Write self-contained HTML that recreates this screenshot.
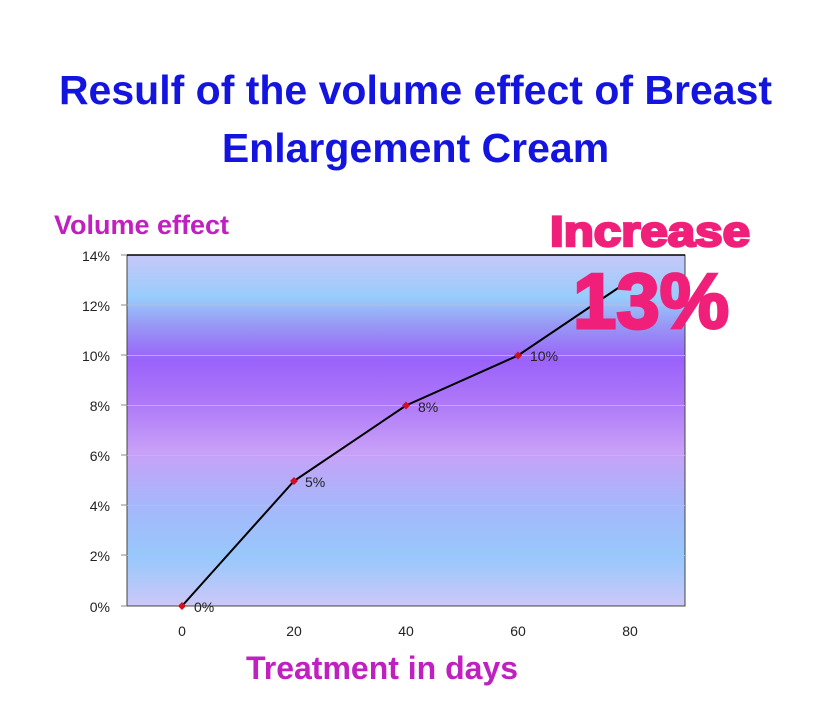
<!DOCTYPE html>
<html><head><style>
body{margin:0;background:#fff;width:831px;height:720px;overflow:hidden;position:relative;font-family:"Liberation Sans",sans-serif}
.t{position:absolute;left:0;width:831px;text-align:center;color:#1414e0;font-weight:bold;font-size:41px;line-height:58px;top:61px}
</style></head><body>
<div class="t">Resulf of the volume effect of Breast<br>Enlargement Cream</div>
<svg width="831" height="720" style="position:absolute;left:0;top:0" font-family="Liberation Sans, sans-serif">
<defs><linearGradient id="g" x1="0" y1="0" x2="0" y2="1">
<stop offset="0" stop-color="#c6c8f8"/><stop offset="0.12" stop-color="#98ccfc"/>
<stop offset="0.2" stop-color="#9898f4"/><stop offset="0.3" stop-color="#9a62fa"/>
<stop offset="0.42" stop-color="#ae78f8"/><stop offset="0.56" stop-color="#c8a0f8"/>
<stop offset="0.72" stop-color="#a4b8fa"/><stop offset="0.86" stop-color="#98c8fc"/>
<stop offset="1" stop-color="#ccc8f8"/></linearGradient></defs>
<rect x="127" y="255" width="558" height="351" fill="url(#g)" stroke="#444" stroke-width="1"/>
<g stroke="#b8c0e0" stroke-width="1" opacity="0.8">
<line x1="127" x2="685" y1="305" y2="305"/><line x1="127" x2="685" y1="355.5" y2="355.5"/>
<line x1="127" x2="685" y1="405.5" y2="405.5"/><line x1="127" x2="685" y1="455.5" y2="455.5"/>
<line x1="127" x2="685" y1="505.5" y2="505.5"/><line x1="127" x2="685" y1="555.5" y2="555.5"/></g>
<line x1="127" x2="685" y1="255" y2="255" stroke="#000" stroke-width="1.5"/>
<g stroke="#888"><line x1="121" x2="127" y1="255" y2="255"/><line x1="121" x2="127" y1="305" y2="305"/><line x1="121" x2="127" y1="355" y2="355"/><line x1="121" x2="127" y1="405" y2="405"/><line x1="121" x2="127" y1="455" y2="455"/><line x1="121" x2="127" y1="505" y2="505"/><line x1="121" x2="127" y1="555" y2="555"/><line x1="121" x2="127" y1="606" y2="606"/></g>
<g font-size="14" fill="#222" text-anchor="end">
<text x="110" y="261">14%</text><text x="110" y="311">12%</text><text x="110" y="361">10%</text><text x="110" y="411">8%</text><text x="110" y="461">6%</text><text x="110" y="511">4%</text><text x="110" y="561">2%</text><text x="110" y="612">0%</text></g>
<g font-size="14" fill="#222" text-anchor="middle">
<text x="182" y="636">0</text><text x="294" y="636">20</text><text x="406" y="636">40</text><text x="518" y="636">60</text><text x="630" y="636">80</text></g>
<polyline points="182,606 294,481 406,405.5 518,355.5 630,280" fill="none" stroke="#000" stroke-width="2"/>
<g fill="#d01020"><path d="M182 602l4 4-4 4-4-4z"/><path d="M294 477l4 4-4 4-4-4z"/><path d="M406 401.5l4 4-4 4-4-4z"/><path d="M518 351.5l4 4-4 4-4-4z"/></g>
<g font-size="14" fill="#222"><text x="194" y="612">0%</text><text x="305" y="487">5%</text><text x="418" y="412">8%</text><text x="530" y="361">10%</text></g>
<text x="54" y="234" font-size="27" font-weight="bold" fill="#c020c0">Volume effect</text>
<text x="382" y="679" text-anchor="middle" font-size="32" font-weight="bold" fill="#c020c0">Treatment in days</text>
<text x="650" y="246" text-anchor="middle" font-size="43" font-weight="bold" fill="#f0207a" stroke="#f0207a" stroke-width="2.5" textLength="200" lengthAdjust="spacingAndGlyphs">Increase</text>
<text x="651" y="328" text-anchor="middle" font-size="78" font-weight="bold" fill="#f0207a" stroke="#f0207a" stroke-width="3" textLength="156" lengthAdjust="spacingAndGlyphs">13%</text>
</svg>
</body></html>
